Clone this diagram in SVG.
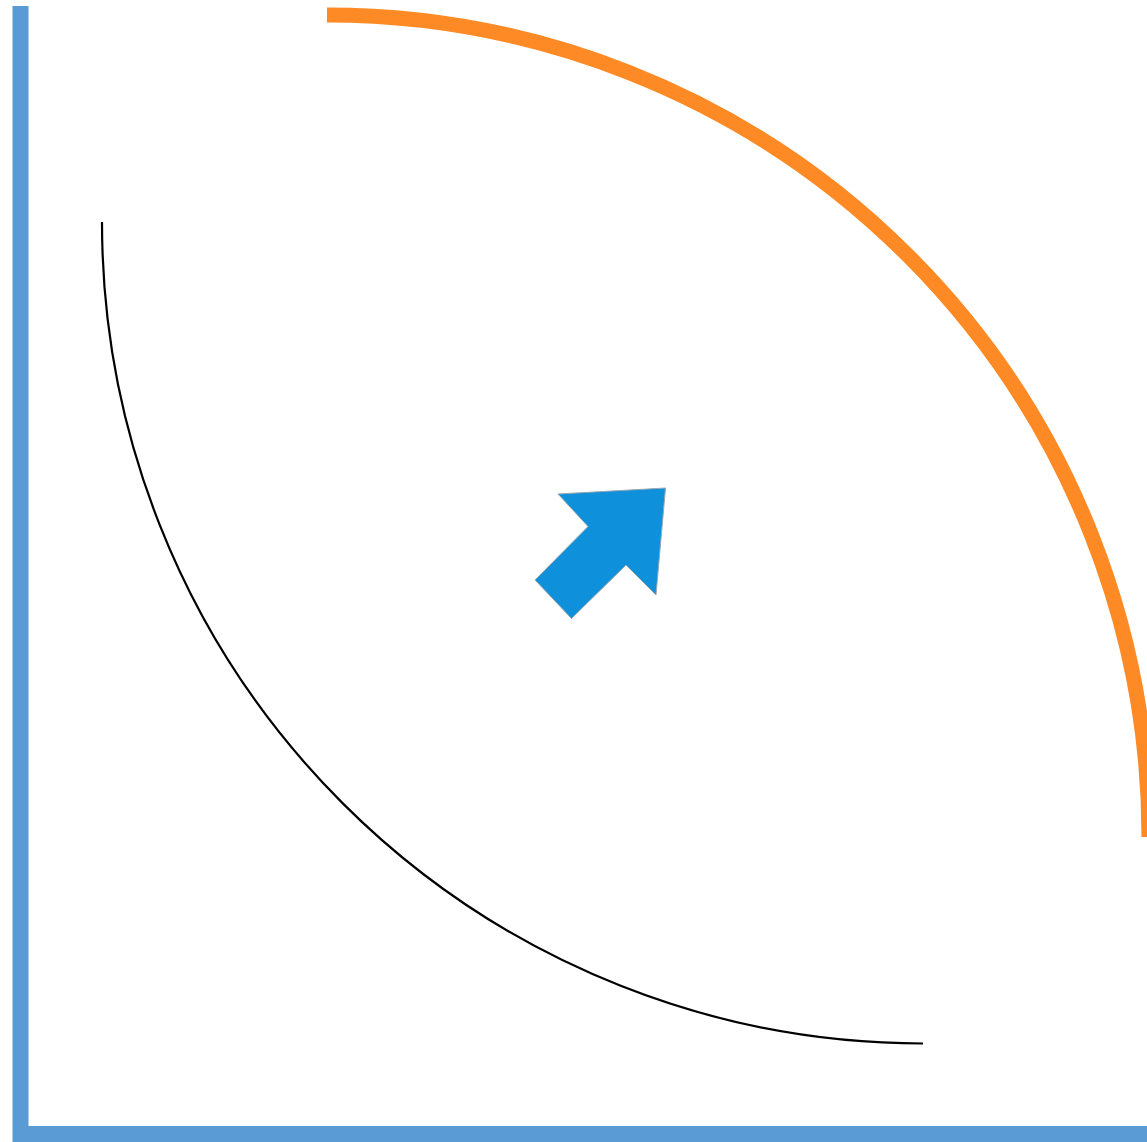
<svg xmlns="http://www.w3.org/2000/svg" width="1147" height="1142" viewBox="0 0 1147 1142">
<style>
.axis{fill:none;stroke:#5b9bd5;stroke-width:16}
.outer{fill:none;stroke:#fd8a24;stroke-width:15}
.inner{fill:none;stroke:#000;stroke-width:2.2}
.arrow{fill:#0e90db;stroke:#9aa7b0;stroke-width:1}
</style>
<rect width="1147" height="1142" fill="#fff"/>
<g id="axes">
<polyline class="axis" points="20.5,6 20.5,1134 1147,1134"/>
</g>
<g id="outer-arc">
<path class="outer" d="M327,15 A822,822 0 0 1 1149,837"/>
</g>
<g id="inner-arc">
<path class="inner" d="M102,222 A821,821 0 0 0 923,1043.5"/>
</g>
<g id="arrow">
<polygon class="arrow" points="558,494 665.5,488 656,595 626,565 571.5,618.5 535,580 588,526.5"/>
</g>
</svg>
